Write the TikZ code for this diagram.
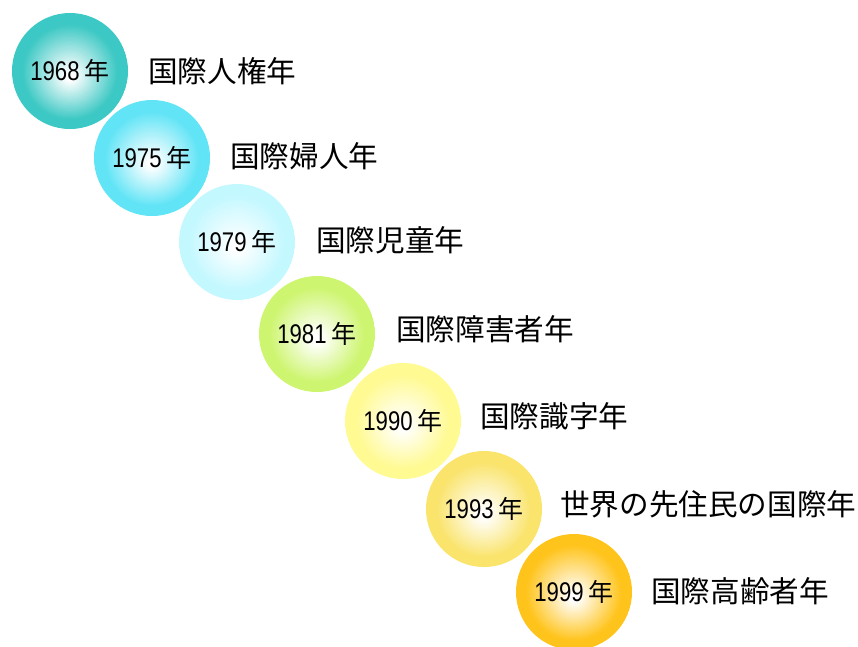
\documentclass[tikz,border=0pt]{standalone}
\usepackage{fontspec}
\newfontfamily\jpfont{Noto Sans CJK JP}
\newfontfamily\yearfont[FakeStretch=0.82]{Liberation Sans}
\definecolor{c1}{RGB}{60,200,196}
\definecolor{c2}{RGB}{96,228,246}
\definecolor{c3}{RGB}{196,248,255}
\definecolor{c4}{RGB}{206,245,112}
\definecolor{c5}{RGB}{255,250,145}
\definecolor{c6}{RGB}{250,228,108}
\definecolor{c7}{RGB}{255,196,28}
\tikzset{
  ball/.style={circle, minimum size=116pt, inner sep=0pt,
    path picture={
      \foreach \i in {0,...,47}{
        \pgfmathsetmacro\f{1-\i/48}
        \pgfmathtruncatemacro\p{min(100,max(0,(\f-0.08)/0.74*100))}
        \pgfmathsetmacro\d{(1-\f)*6}
        \fill[#1!\p!white] ([yshift=-\d pt]path picture bounding box.center) circle (\f*58.5pt);
      }
    },
    font={\fontsize{27}{30}\selectfont\yearfont}},
  lbl/.style={anchor=west, inner sep=0pt,
    font={\fontsize{29.6}{32}\selectfont\jpfont}}
}
\newcommand{\yr}[1]{#1\hspace{5pt}{\jpfont\fontsize{25}{26}\selectfont 年}}
\begin{document}
\begin{tikzpicture}[x=1pt,y=-1pt]
\clip (0,0) rectangle (858,646);
\useasboundingbox (0,0) rectangle (858,646);
\node[ball=c1] (b1) at (70,71) {\yr{1968}};
\node[ball=c2] (b2) at (152,158) {\yr{1975}};
\node[ball=c3] (b3) at (237,242) {\yr{1979}};
\node[ball=c4] (b4) at (317,334) {\yr{1981}};
\node[ball=c5] (b5) at (403,421) {\yr{1990}};
\node[ball=c6] (b6) at (484,509) {\yr{1993}};
\node[ball=c7] (b7) at (574,592) {\yr{1999}};
\node[lbl] (l1) at (148,71) {国際人権年};
\node[lbl] (l2) at (230,156) {国際婦人年};
\node[lbl] (l3) at (316,240) {国際児童年};
\node[lbl] (l4) at (396,329) {国際障害者年};
\node[lbl] (l5) at (480,416) {国際識字年};
\node[lbl] (l6) at (560,504) {世界の先住民の国際年};
\node[lbl] (l7) at (651,591) {国際高齢者年};
\end{tikzpicture}
\end{document}
